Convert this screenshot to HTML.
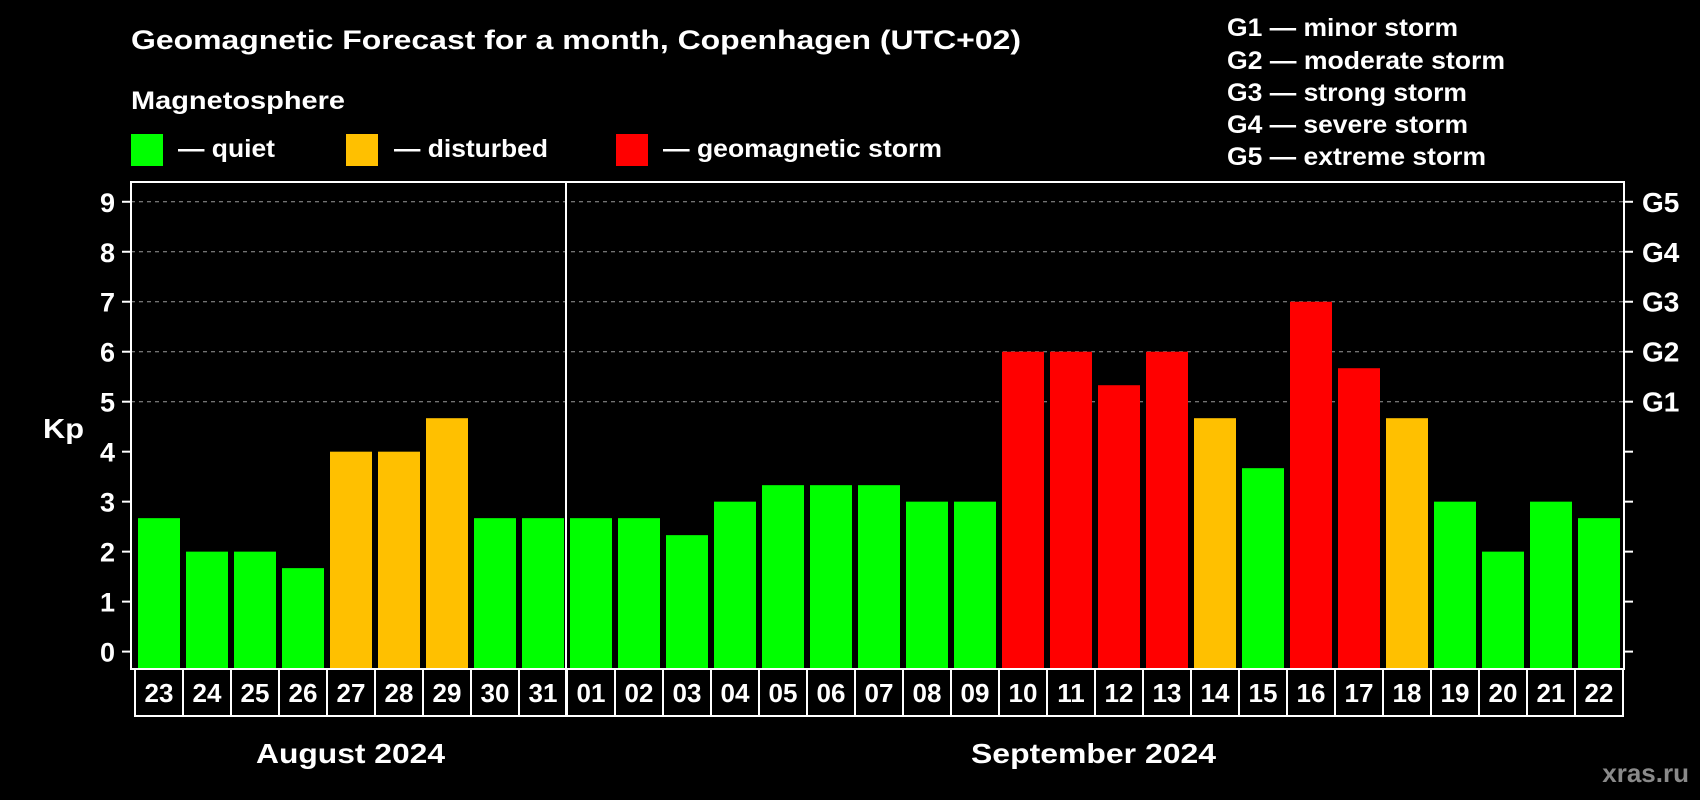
<!DOCTYPE html>
<html><head><meta charset="utf-8"><style>
html,body{margin:0;padding:0;background:#000;}
svg{display:block;font-family:"Liberation Sans",Arial,sans-serif;font-weight:bold;}
</style></head><body>
<svg id="chart" width="1700" height="800" viewBox="0 0 1700 800">
<rect width="1700" height="800" fill="#000"/>
<text x="131" y="49" font-size="27" fill="#fff" textLength="890" lengthAdjust="spacingAndGlyphs">Geomagnetic Forecast for a month, Copenhagen (UTC+02)</text>
<text x="131" y="109" font-size="25" fill="#fff" textLength="214" lengthAdjust="spacingAndGlyphs">Magnetosphere</text>
<g>
<rect x="131" y="134" width="32" height="32" fill="#00ff00"/>
<text x="178" y="157" font-size="25" fill="#fff" textLength="97" lengthAdjust="spacingAndGlyphs">— quiet</text></g>
<g>
<rect x="346" y="134" width="32" height="32" fill="#ffc000"/>
<text x="394" y="157" font-size="25" fill="#fff" textLength="154" lengthAdjust="spacingAndGlyphs">— disturbed</text></g>
<g>
<rect x="616" y="134" width="32" height="32" fill="#ff0000"/>
<text x="663" y="157" font-size="25" fill="#fff" textLength="279" lengthAdjust="spacingAndGlyphs">— geomagnetic storm</text></g>
<g font-size="25" fill="#fff">
<text x="1227" y="36" textLength="231" lengthAdjust="spacingAndGlyphs">G1 — minor storm</text>
<text x="1227" y="69" textLength="278" lengthAdjust="spacingAndGlyphs">G2 — moderate storm</text>
<text x="1227" y="101" textLength="240" lengthAdjust="spacingAndGlyphs">G3 — strong storm</text>
<text x="1227" y="133" textLength="241" lengthAdjust="spacingAndGlyphs">G4 — severe storm</text>
<text x="1227" y="165" textLength="259" lengthAdjust="spacingAndGlyphs">G5 — extreme storm</text>
</g>
<text x="43" y="438" font-size="28" fill="#fff" textLength="41" lengthAdjust="spacingAndGlyphs">Kp</text>
<g id="grid"></g><g id="bars"></g><g id="axes"></g>
<text x="256" y="763" font-size="28" fill="#fff" textLength="189" lengthAdjust="spacingAndGlyphs">August 2024</text>
<text x="971" y="763" font-size="28" fill="#fff" textLength="245" lengthAdjust="spacingAndGlyphs">September 2024</text>
<text x="1689" y="782" font-size="26" fill="#8a8a8a" text-anchor="end">xras.ru</text>
</svg>
<script>
const days = ["23","24","25","26","27","28","29","30","31","01","02","03","04","05","06","07","08","09","10","11","12","13","14","15","16","17","18","19","20","21","22"];
const kpValues = [2.67,2,2,1.67,4,4,4.67,2.67,2.67,2.67,2.67,2.33,3,3.33,3.33,3.33,3,3,6,6,5.33,6,4.67,3.67,7,5.67,4.67,3,2,3,2.67];
const yTicks = [0,1,2,3,4,5,6,7,8,9];
const gLabels = ["G1","G2","G3","G4","G5"];
const gLevels = [5,6,7,8,9];

const NS="http://www.w3.org/2000/svg";
const L=131,R=1624,T=182,B=669;
const y=v=>651.6-v*49.98;
const x0=138,pitch=48,bw=42;
const xb=i=>x0+i*pitch;
function mk(tag,attrs,parent){const e=document.createElementNS(NS,tag);for(const k in attrs)e.setAttribute(k,attrs[k]);parent.appendChild(e);return e;}
const grid=document.getElementById('grid'),bars=document.getElementById('bars'),axes=document.getElementById('axes');
gLevels.forEach(v=>{
  const l=mk('line',{x1:L,x2:R,y1:y(v),y2:y(v),stroke:'#999','stroke-width':1,'stroke-dasharray':'4,4'},grid);
  
  
});
kpValues.forEach((v,i)=>{
  const c=v>=5?'#ff0000':(v>=4?'#ffc000':'#00ff00');
  const r=mk('rect',{x:xb(i),y:y(v),width:bw,height:B-y(v),fill:c},bars);
  
  
  const cell=mk('rect',{x:xb(i)-3,y:B,width:pitch,height:47,fill:'none',stroke:'#fff','stroke-width':2},axes);
  
  
  const t=mk('text',{x:xb(i)-3+pitch/2,y:B+33,'font-size':26,fill:'#fff','text-anchor':'middle'},axes);
  t.textContent=days[i];
  
  
});
const frame=mk('rect',{x:L,y:T,width:R-L,height:B-T,fill:'none',stroke:'#fff','stroke-width':2},axes);


const sep=mk('line',{x1:566,x2:566,y1:T,y2:716,stroke:'#fff','stroke-width':2},axes);


yTicks.forEach(v=>{
  const tk=mk('line',{x1:L-9,x2:L,y1:y(v),y2:y(v),stroke:'#fff','stroke-width':2},axes);
  
  
  const rt=mk('line',{x1:R,x2:R+9,y1:y(v),y2:y(v),stroke:'#fff','stroke-width':2},axes);
  
  
  const t=mk('text',{x:L-16,y:y(v)+10,'font-size':27,fill:'#fff','text-anchor':'end'},axes);
  t.textContent=v;
  
  
});
gLabels.forEach((g,i)=>{
  const t=mk('text',{x:R+18,y:y(gLevels[i])+10,'font-size':28,fill:'#fff'},axes);
  t.textContent=g;
  
  
});
</script>
</body></html>
